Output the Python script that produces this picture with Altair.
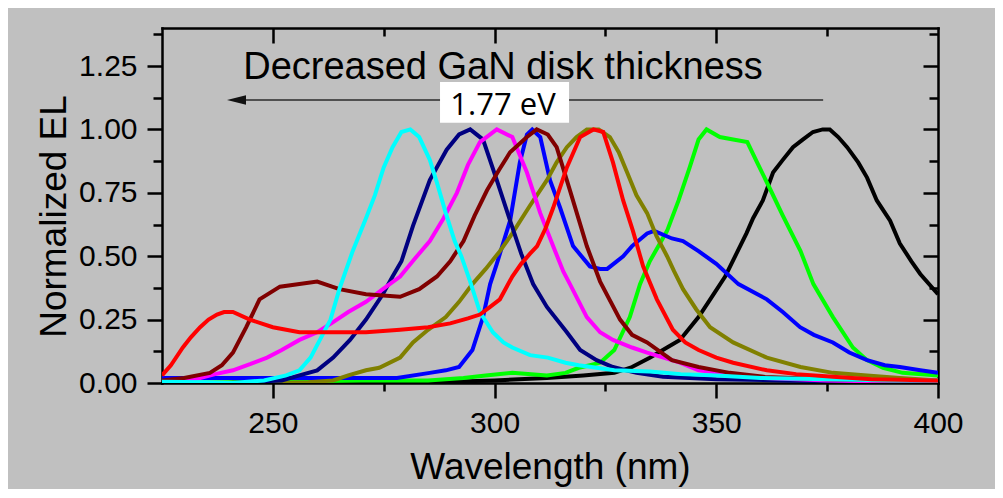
import altair as alt
import pandas as pd

# ---------------- data ----------------
black_x = [225, 280, 300, 311.8, 320, 327, 331, 335, 338.9, 341.8, 346, 349, 352, 356.8, 358.3, 360.5, 362.8, 365, 367.3, 369.5, 371.8, 374, 375.6, 377.5, 379.5, 382, 384, 386.2, 389.2, 391.4, 394, 396, 400]
black_y = [0, 0, 0.01, 0.02, 0.03, 0.04, 0.063, 0.10, 0.14, 0.17, 0.26, 0.34, 0.42, 0.59, 0.65, 0.72, 0.83, 0.88, 0.93, 0.96, 0.99, 1.0, 1.0, 0.97, 0.93, 0.87, 0.81, 0.72, 0.64, 0.55, 0.48, 0.43, 0.35]

lime_x = [225, 250, 270, 285, 293, 298, 304, 311.8, 316, 319, 321.5, 323.8, 327, 330.5, 332.8, 335, 338.9, 341.5, 344, 346, 347.8, 350.8, 353.8, 357, 359.2, 362, 365, 369, 371.9, 376.3, 380.8, 384, 387.6, 392, 400]
lime_y = [0.0, 0.005, 0.01, 0.01, 0.02, 0.03, 0.04, 0.03, 0.04, 0.06, 0.07, 0.08, 0.13, 0.26, 0.39, 0.48, 0.60, 0.72, 0.85, 0.96, 1.0, 0.97, 0.96, 0.95, 0.87, 0.77, 0.66, 0.52, 0.39, 0.26, 0.14, 0.09, 0.06, 0.04, 0.03]

blue_x = [225, 240, 255, 270, 278, 285.4, 289, 292, 295, 297.4, 299, 300.5, 303.5, 305.7, 307.3, 308.5, 310.3, 312.5, 314.8, 317.7, 321.5, 323.8, 325.4, 329, 331, 334.4, 336, 340, 342.5, 346, 350, 355, 361.4, 365, 368.9, 372, 376.3, 380, 384, 388, 391.4, 396, 400]
blue_y = [0.02, 0.02, 0.02, 0.02, 0.02, 0.04, 0.05, 0.063, 0.13, 0.26, 0.39, 0.47, 0.64, 0.87, 0.98, 1.0, 0.97, 0.80, 0.69, 0.54, 0.46, 0.45, 0.45, 0.50, 0.54, 0.59, 0.60, 0.57, 0.56, 0.52, 0.47, 0.39, 0.33, 0.28, 0.22, 0.19, 0.16, 0.12, 0.09, 0.07, 0.063, 0.05, 0.04]

olive_x = [225, 250, 258, 263.6, 267, 271, 274, 278.7, 281.6, 285, 289, 292, 295, 298, 301.2, 304, 308, 311.8, 314, 316.3, 318.5, 320.8, 323.5, 326, 328, 329.9, 332, 334.4, 336.5, 338.9, 340.5, 342.5, 345.5, 348.6, 353.8, 361.4, 369, 376.3, 384, 391.4, 400]
olive_y = [0, 0, 0.003, 0.01, 0.03, 0.05, 0.06, 0.10, 0.16, 0.21, 0.26, 0.32, 0.39, 0.45, 0.52, 0.59, 0.70, 0.80, 0.87, 0.93, 0.97, 1.0, 1.0, 0.97, 0.91, 0.83, 0.74, 0.67, 0.58, 0.50, 0.44, 0.37, 0.29, 0.22, 0.16, 0.10, 0.063, 0.04, 0.03, 0.02, 0.01]

navy_x = [225, 240, 252, 256, 260, 263.6, 267.4, 271, 274.8, 277, 279, 281.6, 285.4, 289.2, 292, 294.5, 297.4, 300.5, 303.5, 306, 308.7, 311.8, 316.3, 319.3, 323, 326.7, 332, 338, 350, 365, 380, 400]
navy_y = [0, 0, 0.01, 0.03, 0.05, 0.10, 0.17, 0.25, 0.35, 0.42, 0.48, 0.62, 0.80, 0.92, 0.98, 1.0, 0.96, 0.80, 0.64, 0.51, 0.39, 0.30, 0.20, 0.13, 0.09, 0.063, 0.04, 0.025, 0.015, 0.01, 0.005, 0.005]

magenta_x = [225, 229, 233.6, 237, 241, 245, 248.7, 252, 256, 260, 263.6, 267, 271, 274.8, 278.7, 282, 285.4, 288.5, 291.5, 294, 296.7, 300.5, 304, 307.3, 310.3, 313.2, 315.5, 317, 320.8, 323.8, 326.7, 331, 334.4, 341.8, 346, 353, 361, 375, 390, 400]
magenta_y = [0.005, 0.01, 0.02, 0.035, 0.05, 0.075, 0.10, 0.13, 0.17, 0.20, 0.24, 0.28, 0.32, 0.37, 0.42, 0.49, 0.56, 0.65, 0.75, 0.86, 0.95, 1.0, 0.97, 0.83, 0.67, 0.54, 0.44, 0.39, 0.26, 0.20, 0.17, 0.14, 0.12, 0.08, 0.05, 0.035, 0.02, 0.01, 0.005, 0.005]

maroon_x = [225, 230, 235.8, 238.5, 241, 244, 247, 251.6, 256, 260, 265, 271, 278.7, 283, 287, 290, 293, 295.5, 298.3, 301, 303.5, 307.3, 309.5, 312, 314, 317, 320.8, 323.8, 328.3, 331, 334.4, 340, 346, 353, 361, 375, 390, 400]
maroon_y = [0.01, 0.02, 0.04, 0.07, 0.12, 0.22, 0.33, 0.38, 0.39, 0.40, 0.37, 0.35, 0.34, 0.37, 0.42, 0.48, 0.56, 0.66, 0.76, 0.84, 0.91, 0.97, 1.0, 0.98, 0.93, 0.76, 0.54, 0.40, 0.25, 0.19, 0.16, 0.09, 0.063, 0.04, 0.024, 0.015, 0.01, 0.01]

cyan_x = [225, 235, 241, 248, 253, 256, 258.5, 260.6, 263, 265, 268, 271, 273, 275, 277, 279, 281, 283, 285.4, 287, 289, 291, 292.5, 294.5, 296.7, 299.6, 302, 304, 308, 312, 316, 319, 323, 327, 335, 342, 350, 360, 375, 390, 400]
cyan_y = [0.005, 0.003, 0.0, 0.01, 0.03, 0.05, 0.10, 0.17, 0.25, 0.37, 0.52, 0.65, 0.74, 0.85, 0.93, 0.99, 1.0, 0.97, 0.88, 0.79, 0.67, 0.56, 0.50, 0.40, 0.28, 0.20, 0.16, 0.14, 0.11, 0.10, 0.08, 0.07, 0.06, 0.05, 0.045, 0.035, 0.03, 0.02, 0.015, 0.01, 0.01]

red_x = [225, 227, 229.7, 231.5, 233.6, 235.5, 237.4, 239, 241, 244.8, 250, 256, 263.6, 271, 278.7, 285, 290, 294, 296.7, 299, 301.2, 304, 306, 308, 309.6, 311.5, 313.2, 316.3, 319.3, 322.3, 324.5, 326.7, 329, 331.2, 333.5, 336.6, 340.2, 343, 346, 350, 353.8, 361.4, 368, 376.3, 385, 400]
red_y = [0.03, 0.07, 0.14, 0.18, 0.22, 0.25, 0.27, 0.28, 0.28, 0.25, 0.22, 0.20, 0.20, 0.20, 0.21, 0.22, 0.235, 0.255, 0.27, 0.30, 0.33, 0.42, 0.47, 0.51, 0.54, 0.61, 0.69, 0.85, 0.97, 1.0, 0.99, 0.87, 0.72, 0.60, 0.46, 0.33, 0.21, 0.16, 0.13, 0.10, 0.08, 0.05, 0.035, 0.025, 0.015, 0.01]

series_names = ["black", "lime", "blue", "olive", "navy", "magenta", "maroon", "cyan", "red"]
series_colors = ["#000000", "#00ff00", "#0000ff", "#808000", "#000080", "#ff00ff", "#800000", "#00ffff", "#ff0000"]

x_major = [250, 300, 350, 400]
x_minor = [275, 325, 375]
y_major = [0.0, 0.25, 0.5, 0.75, 1.0, 1.25]
y_minor = [0.125, 0.375, 0.625, 0.875, 1.125, 1.375]

annotation_text = "Decreased GaN disk thickness"
energy_text = "1.77 eV"

# ---------------- build tables ----------------
all_series = {
    "black": (black_x, black_y), "lime": (lime_x, lime_y), "blue": (blue_x, blue_y),
    "olive": (olive_x, olive_y), "navy": (navy_x, navy_y), "magenta": (magenta_x, magenta_y),
    "maroon": (maroon_x, maroon_y), "cyan": (cyan_x, cyan_y), "red": (red_x, red_y),
}
rows = []
for k, name in enumerate(series_names):
    xs, ys = all_series[name]
    for i, (a, b) in enumerate(zip(xs, ys)):
        rows.append({"nm": a, "v": b, "series": name, "k": k, "i": i})
df = pd.DataFrame(rows)

X_DOM = [225, 400]
Y_DOM = [0, 1.4]

def xsc():
    return alt.Scale(domain=X_DOM, nice=False, zero=False)

def ysc():
    return alt.Scale(domain=Y_DOM, nice=False, zero=False)

FONT = "Liberation Sans"

lines = alt.Chart(df).mark_line(strokeWidth=4, clip=True).encode(
    x=alt.X("nm:Q", scale=xsc(), axis=alt.Axis(
        orient="bottom", values=x_major, tickSize=15, labelPadding=10,
        title="Wavelength (nm)", titleY=95, titleBaseline="alphabetic")),
    y=alt.Y("v:Q", scale=ysc(), axis=alt.Axis(
        orient="left", values=y_major, format=".2f", tickSize=15, labelPadding=10,
        title="Normalized EL", titleX=-97, titleY=188, titleAngle=270,
        titleAlign="center", titleBaseline="alphabetic")),
    color=alt.Color("series:N", scale=alt.Scale(domain=series_names, range=series_colors), legend=None),
    detail="k:O",
    order="i:Q",
)

# annotation pieces (data coordinates)
ann_df = pd.DataFrame({"x": [301.9], "y": [1.197], "t": [annotation_text]})
ann = alt.Chart(ann_df).mark_text(font=FONT, fontSize=38, baseline="alphabetic", align="center", color="black").encode(
    x=alt.X("x:Q", scale=xsc(), axis=None), y=alt.Y("y:Q", scale=ysc(), axis=None), text="t:N")

arrow_df = pd.DataFrame({"x": [241.0], "x2": [374.1], "y": [1.116]})
arrow_line = alt.Chart(arrow_df).mark_rule(color="#505050", strokeWidth=2).encode(
    x=alt.X("x:Q", scale=xsc(), axis=None), x2="x2:Q", y=alt.Y("y:Q", scale=ysc(), axis=None))

head_df = pd.DataFrame({"x": [241.8], "y": [1.116]})
arrow_head = alt.Chart(head_df).mark_point(
    shape="M-1,0L1,-0.5L1,0.5Z", size=361, filled=True, color="#111111", opacity=1).encode(
    x=alt.X("x:Q", scale=xsc(), axis=None), y=alt.Y("y:Q", scale=ysc(), axis=None))

box_df = pd.DataFrame({"x": [287.7], "x2": [316.8], "y": [1.026], "y2": [1.187]})
box = alt.Chart(box_df).mark_rect(color="white").encode(
    x=alt.X("x:Q", scale=xsc(), axis=None), x2="x2:Q",
    y=alt.Y("y:Q", scale=ysc(), axis=None), y2="y2:Q")

ev_df = pd.DataFrame({"x": [301.9], "y": [1.057], "t": [energy_text]})
ev = alt.Chart(ev_df).mark_text(font="Open Sans", fontSize=31, baseline="alphabetic", align="center", color="black").encode(
    x=alt.X("x:Q", scale=xsc(), axis=None), y=alt.Y("y:Q", scale=ysc(), axis=None), text="t:N")

# axis-only layers (frame and tick marks)
dummy = pd.DataFrame({"x": X_DOM, "y": Y_DOM})

def axis_layer(xaxis, yaxis):
    return alt.Chart(dummy).mark_point(opacity=0).encode(
        x=alt.X("x:Q", scale=xsc(), axis=xaxis),
        y=alt.Y("y:Q", scale=ysc(), axis=yaxis))

noax = dict(labels=False, title=None, domain=False)

minor_out = axis_layer(
    alt.Axis(orient="bottom", values=x_minor, tickSize=8, **noax),
    alt.Axis(orient="left", values=y_minor, tickSize=9, **noax))
major_in = axis_layer(
    alt.Axis(orient="top", values=[250, 300, 350], tickSize=15, offset=-15, **noax),
    alt.Axis(orient="right", values=[0.25, 0.5, 0.75, 1.0, 1.25], tickSize=15, offset=-15, **noax))
minor_in = axis_layer(
    alt.Axis(orient="top", values=x_minor, tickSize=8, offset=-8, **noax),
    alt.Axis(orient="right", values=y_minor, tickSize=9, offset=-9, **noax))
frame = axis_layer(
    alt.Axis(orient="top", ticks=False, labels=False, title=None, domain=True),
    alt.Axis(orient="right", ticks=False, labels=False, title=None, domain=True))

chart = alt.layer(
    lines, arrow_line, arrow_head, box, ev, ann, minor_out, major_in, minor_in, frame
).resolve_scale(
    x="independent", y="independent"
).resolve_axis(
    x="independent", y="independent"
).properties(
    width=776, height=355,
    autosize=alt.AutoSizeParams(type="none"),
    padding={"left": 154, "top": 20, "right": 57, "bottom": 106},
    background="#c0c0c0",
).configure_view(
    stroke=None
).configure_axis(
    grid=False,
    labelFont=FONT, titleFont=FONT,
    labelFontSize=30, titleFontSize=37,
    labelColor="black", titleColor="black", titleFontWeight="normal",
    domainColor="black", tickColor="black",
    domainWidth=2.5, tickWidth=2.5, domainCap="square",
    labelFlush=False,
)

chart.save("out.html", embed_options={"renderer": "svg", "actions": False})
